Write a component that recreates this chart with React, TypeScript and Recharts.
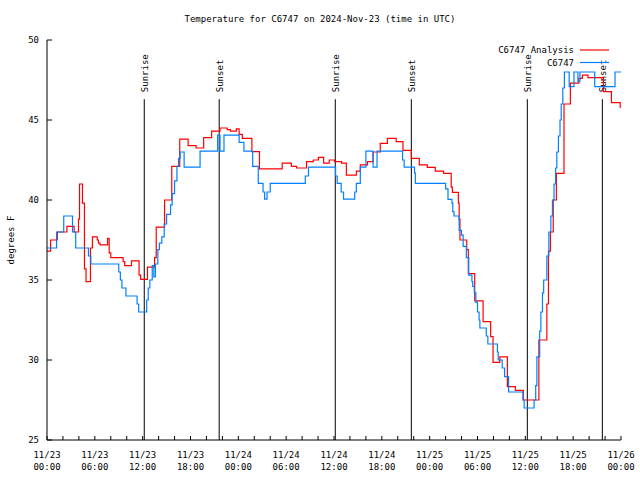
import React from 'react';
import { LineChart, Line, XAxis, YAxis, ReferenceLine, Legend } from 'recharts';

const TITLE = 'Temperature for C6747 on 2024-Nov-23 (time in UTC)';
const Y_LABEL = 'degrees F';
const SERIES_NAMES = ['C6747 Analysis', 'C6747'];

// hours since 11/23 00:00 UTC
const analysisTimes = [0, 0.45, 1.3, 2.5, 3.4, 3.95, 4.08, 4.45, 4.7, 4.9, 5.45, 5.7, 6.3, 6.45, 6.65, 7.6, 7.8, 8.0, 9.55, 9.75, 10.6, 11.55, 11.75, 12.6, 13.5, 13.7, 14.75, 15.65, 16.65, 17.7, 18.7, 19.65, 20.65, 21.7, 22.6, 23.0, 23.75, 24.1, 24.5, 25.7, 26.65, 29.5, 30.65, 31.3, 32.55, 33.4, 34.05, 34.7, 35.4, 36.05, 36.95, 37.55, 38.8, 39.3, 40.2, 40.9, 41.8, 42.7, 43.8, 44.65, 45.7, 46.7, 47.7, 48.7, 49.75, 50.7, 50.85, 51.6, 51.7, 51.8, 52.65, 52.85, 53.65, 54.7, 55.65, 55.95, 56.8, 57.75, 58.75, 59.75, 61.7, 62.7, 62.9, 63.15, 63.5, 63.9, 64.85, 65.65, 66.7, 67.15, 67.85, 69.8, 70.8, 71.9, 72];
const analysisTemps = [36.8, 37.5, 38.0, 38.35, 38.0, 38.8, 41.0, 39.8, 35.7, 34.9, 37.0, 37.7, 37.5, 37.3, 37.2, 37.6, 36.7, 36.4, 36.15, 35.9, 36.2, 35.3, 35.04, 35.8, 36.4, 38.3, 40.0, 42.1, 43.8, 43.4, 43.25, 43.9, 44.3, 44.5, 44.4, 44.3, 44.45, 44.1, 43.85, 43.02, 41.94, 42.3, 42.1, 42.0, 42.4, 42.5, 42.67, 42.3, 42.5, 42.4, 42.3, 41.56, 41.8, 42.2, 42.4, 43.0, 43.54, 43.85, 43.65, 43.1, 42.6, 42.2, 42.04, 41.8, 41.67, 40.8, 40.48, 39.8, 38.8, 37.5, 36.9, 35.4, 33.7, 32.4, 31.46, 29.85, 30.2, 28.33, 28.1, 27.5, 31.25, 33.5, 36.8, 38.0, 40.0, 41.67, 46.0, 47.3, 47.6, 47.8, 47.65, 46.77, 46.08, 45.8, 45.8];

const obsTimes = [0, 1.2, 2.1, 3.2, 3.6, 5.2, 5.5, 9.0, 9.2, 9.4, 9.9, 11.3, 11.5, 12.5, 12.7, 12.9, 13.2, 13.4, 13.6, 13.9, 14.1, 14.4, 14.7, 15.0, 15.5, 15.7, 16.0, 16.3, 16.5, 16.7, 17.2, 19.2, 21.4, 21.7, 22.2, 24.1, 24.7, 25.8, 26.5, 27.1, 27.3, 27.6, 28.0, 32.4, 32.8, 36.2, 36.4, 36.9, 37.2, 38.6, 38.8, 39.3, 40.0, 40.9, 41.4, 44.6, 44.8, 46.1, 46.2, 50.0, 50.3, 50.8, 50.9, 51.05, 51.7, 52.0, 52.2, 52.6, 52.9, 53.3, 53.4, 53.6, 53.8, 54.0, 54.2, 54.3, 55.1, 55.3, 56.5, 56.6, 57.1, 57.4, 57.9, 59.7, 59.85, 61.1, 61.3, 61.45, 61.8, 61.95, 62.15, 62.3, 62.7, 62.95, 63.2, 63.4, 63.6, 63.8, 63.95, 64.15, 64.35, 64.5, 64.7, 64.9, 65.5, 66.1, 66.6, 66.85, 68.7, 71.25, 72];
const obsTemps = [37.0, 38.0, 39.0, 38.0, 37.0, 36.5, 36.0, 35.5, 35.0, 34.5, 34.0, 33.5, 33.0, 33.75, 34.5, 35.0, 35.9, 35.2, 36.0, 36.9, 37.3, 37.7, 38.5, 39.1, 39.7, 40.4, 41.2, 42.1, 42.6, 43.0, 42.06, 43.06, 44.06, 43.06, 44.06, 43.6, 43.06, 42.1, 41.04, 40.5, 40.06, 40.5, 41.04, 41.5, 42.06, 41.5, 41.04, 40.5, 40.06, 40.5, 41.04, 42.06, 43.06, 42.06, 43.06, 42.5, 42.06, 41.7, 41.04, 40.7, 40.04, 39.8, 39.27, 39.0, 38.1, 37.8, 37.1, 36.4, 35.3, 34.9, 34.6, 34.2, 33.6, 33.0, 32.5, 32.0, 31.5, 31.0, 30.5, 30.0, 29.5, 28.96, 28.0, 27.5, 27.0, 27.5, 28.4, 30.2, 31.8, 33.0, 34.2, 35.0, 36.5, 38.0, 39.0, 40.0, 41.0, 42.0, 43.0, 44.0, 45.0, 46.0, 47.0, 48.0, 47.08, 48.0, 47.4, 48.0, 47.08, 48.0, 48.0];

const eventTimes = [12.2, 21.6, 36.16, 45.7, 60.25, 69.66];
const eventNames = ['Sunrise', 'Sunset', 'Sunrise', 'Sunset', 'Sunrise', 'Sunset'];

const xTickLabels = ['11/23 00:00', '11/23 06:00', '11/23 12:00', '11/23 18:00', '11/24 00:00', '11/24 06:00', '11/24 12:00', '11/24 18:00', '11/25 00:00', '11/25 06:00', '11/25 12:00', '11/25 18:00', '11/26 00:00'];
const yTicks = [25, 30, 35, 40, 45, 50];

const analysisData = analysisTimes.map((t, i) => ({ t, v: analysisTemps[i] }));
const obsData = obsTimes.map((t, i) => ({ t, v: obsTemps[i] }));
const xTicks = Array.from({ length: 37 }, (_, i) => i * 2);

const FONT = '"DejaVu Sans Mono", "Liberation Mono", monospace';
const FS = 9;

const BottomTick = (props: any) => {
  const { x, y, payload } = props;
  const v = payload.value;
  const major = v % 6 === 0;
  const parts = major ? xTickLabels[v / 6].split(' ') : null;
  return (
    <g>
      <line x1={x} y1={y} x2={x} y2={y - 4} stroke="#000" />
      {parts && (
        <text x={x} y={y + 18} textAnchor="middle" fontFamily={FONT} fontSize={FS} fill="#000">
          {parts[0]}
        </text>
      )}
      {parts && (
        <text x={x} y={y + 30} textAnchor="middle" fontFamily={FONT} fontSize={FS} fill="#000">
          {parts[1]}
        </text>
      )}
    </g>
  );
};

const TopTick = (props: any) => {
  const { x, y } = props;
  return <line x1={x} y1={y} x2={x} y2={y + 4} stroke="#000" />;
};

const LeftTick = (props: any) => {
  const { x, y, payload } = props;
  return (
    <g>
      <line x1={x} y1={y} x2={x + 5} y2={y} stroke="#000" />
      <text x={x - 8} y={y + 3} textAnchor="end" fontFamily={FONT} fontSize={FS} fill="#000">
        {payload.value}
      </text>
    </g>
  );
};

const RightTick = (props: any) => {
  const { x, y } = props;
  return <line x1={x} y1={y} x2={x - 5} y2={y} stroke="#000" />;
};

const EventLabel = (name: string) => (props: any) => {
  const vb = props.viewBox || {};
  const x = vb.x;
  const y = vb.y;
  return (
    <text
      x={x + 4}
      y={y - 7}
      transform={`rotate(-90 ${x + 4} ${y - 7})`}
      textAnchor="start"
      fontFamily={FONT}
      fontSize={FS}
      fill="#000"
    >
      {name}
    </text>
  );
};

const LegendContent = (props: any) => {
  const payload = (props.payload || []).slice().sort(
    (a: any, b: any) => SERIES_NAMES.indexOf(a.value) - SERIES_NAMES.indexOf(b.value)
  );
  return (
    <svg width={640} height={80} style={{ display: 'block' }}>
      {payload.map((p: any, i: number) => (
        <g key={i}>
          <text x={574} y={53 + i * 13} textAnchor="end" fontFamily={FONT} fontSize={FS} fill="#000">
            {p.value}
          </text>
          <line x1={580} x2={609} y1={50 + i * 12.5} y2={50 + i * 12.5} stroke={p.color} strokeWidth={1.2} />
        </g>
      ))}
    </svg>
  );
};

export default function App() {
  return (
    <div style={{ position: 'absolute', left: 0, top: 0, width: 640, height: 480, background: '#fff' }}>
      <LineChart width={640} height={480} margin={{ top: 40, right: 19, bottom: 0, left: 0 }}>
        <XAxis
          xAxisId={0}
          type="number"
          dataKey="t"
          domain={[0, 72]}
          ticks={xTicks}
          interval={0}
          height={40}
          tickSize={0}
          tickMargin={0}
          tickLine={false}
          tick={<BottomTick />}
          axisLine={{ stroke: '#000' }}
          allowDataOverflow
        />
        <XAxis
          xAxisId="top"
          orientation="top"
          type="number"
          dataKey="t"
          domain={[0, 72]}
          ticks={xTicks}
          interval={0}
          height={0}
          tickSize={0}
          tickMargin={0}
          tickLine={false}
          tick={<TopTick />}
          axisLine={{ stroke: '#000' }}
          allowDataOverflow
        />
        <YAxis
          yAxisId={0}
          type="number"
          domain={[25, 50]}
          ticks={yTicks}
          interval={0}
          width={47}
          tickSize={0}
          tickMargin={0}
          tickLine={false}
          tick={<LeftTick />}
          axisLine={{ stroke: '#000' }}
          allowDataOverflow
          label={{
            value: Y_LABEL,
            angle: -90,
            position: 'insideLeft',
            offset: 0,
            style: { fontFamily: FONT, fontSize: FS, fill: '#000', textAnchor: 'middle' },
            dx: 11,
          }}
        />
        <YAxis
          yAxisId="right"
          orientation="right"
          type="number"
          domain={[25, 50]}
          ticks={yTicks}
          interval={0}
          width={0}
          tickSize={0}
          tickMargin={0}
          tickLine={false}
          tick={<RightTick />}
          axisLine={{ stroke: '#000' }}
          allowDataOverflow
        />
        {eventTimes.map((t, i) => (
          <ReferenceLine
            key={i}
            segment={[{ x: t, y: 25 }, { x: t, y: 46.3 }]}
            stroke="#000"
            strokeWidth={1}
            label={EventLabel(eventNames[i])}
          />
        ))}
        <Line
          data={analysisData}
          dataKey="v"
          name={SERIES_NAMES[0]}
          type="stepAfter"
          stroke="#ff0000"
          strokeWidth={1.2}
          dot={false}
          isAnimationActive={false}
        />
        <Line
          data={obsData}
          dataKey="v"
          name={SERIES_NAMES[1]}
          type="stepAfter"
          stroke="#0080ff"
          strokeWidth={1.2}
          dot={false}
          isAnimationActive={false}
        />
        <Legend
          layout="vertical"
          align="center"
          verticalAlign="middle"
          content={<LegendContent />}
          wrapperStyle={{ position: 'absolute', left: 0, top: 0, width: 640, height: 80 }}
        />
        <text x={320} y={22} textAnchor="middle" fontFamily={FONT} fontSize={FS} fill="#000">
          {TITLE}
        </text>
      </LineChart>
    </div>
  );
}
